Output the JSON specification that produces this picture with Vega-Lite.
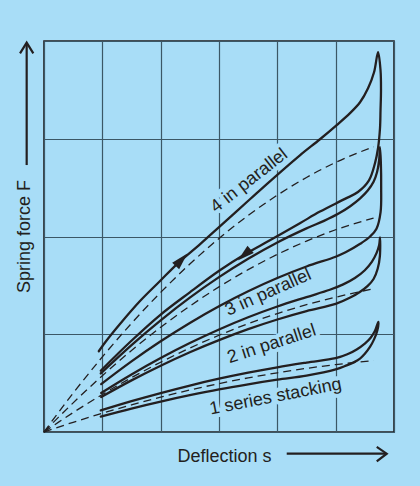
{
  "$schema": "https://vega.github.io/schema/vega-lite/v6.json",
  "width": 350,
  "height": 391,
  "autosize": "none",
  "padding": {"left": 44, "top": 41, "right": 26, "bottom": 54},
  "background": "#a8ddf7",
  "config": {
    "view": {"stroke": "#231f20", "strokeWidth": 1.6},
    "font": "Liberation Sans"
  },
  "datasets": {
    "solid": [
      {"id": "G4", "ord": 1, "s": 0.939, "F": 0.826},
      {"id": "G4", "ord": 2, "s": 1.076, "F": 0.938},
      {"id": "G4", "ord": 3, "s": 1.299, "F": 1.102},
      {"id": "G4", "ord": 4, "s": 1.642, "F": 1.337},
      {"id": "G4", "ord": 5, "s": 1.985, "F": 1.542},
      {"id": "G4", "ord": 6, "s": 2.294, "F": 1.726},
      {"id": "G4", "ord": 7, "s": 2.672, "F": 1.92},
      {"id": "G4", "ord": 8, "s": 3.015, "F": 2.104},
      {"id": "G4", "ord": 9, "s": 3.53, "F": 2.381},
      {"id": "G4", "ord": 10, "s": 3.873, "F": 2.565},
      {"id": "G4", "ord": 11, "s": 4.387, "F": 2.831},
      {"id": "G4", "ord": 12, "s": 4.731, "F": 2.995},
      {"id": "G4", "ord": 13, "s": 5.023, "F": 3.142},
      {"id": "G4", "ord": 14, "s": 5.246, "F": 3.262},
      {"id": "G4", "ord": 15, "s": 5.418, "F": 3.373},
      {"id": "G4", "ord": 16, "s": 5.555, "F": 3.516},
      {"id": "G4", "ord": 17, "s": 5.658, "F": 3.68},
      {"id": "G4", "ord": 18, "s": 5.727, "F": 3.885},
      {"id": "G4", "ord": 19, "s": 5.769, "F": 3.701},
      {"id": "G4", "ord": 20, "s": 5.777, "F": 3.496},
      {"id": "G4", "ord": 21, "s": 5.769, "F": 3.292},
      {"id": "G4", "ord": 22, "s": 5.76, "F": 3.107},
      {"id": "G4", "ord": 23, "s": 5.726, "F": 2.903},
      {"id": "G4", "ord": 24, "s": 5.674, "F": 2.75},
      {"id": "G4", "ord": 25, "s": 5.571, "F": 2.574},
      {"id": "G4", "ord": 26, "s": 5.382, "F": 2.455},
      {"id": "G4", "ord": 27, "s": 5.159, "F": 2.385},
      {"id": "G4", "ord": 28, "s": 4.731, "F": 2.255},
      {"id": "G4", "ord": 29, "s": 4.387, "F": 2.136},
      {"id": "G4", "ord": 30, "s": 3.873, "F": 1.961},
      {"id": "G4", "ord": 31, "s": 3.444, "F": 1.818},
      {"id": "G4", "ord": 32, "s": 3.015, "F": 1.654},
      {"id": "G4", "ord": 33, "s": 2.5, "F": 1.429},
      {"id": "G4", "ord": 34, "s": 1.985, "F": 1.194},
      {"id": "G4", "ord": 35, "s": 1.471, "F": 0.918},
      {"id": "G4", "ord": 36, "s": 0.973, "F": 0.627},

      {"id": "G3", "ord": 1, "s": 0.973, "F": 0.599},
      {"id": "G3", "ord": 2, "s": 1.5, "F": 0.889},
      {"id": "G3", "ord": 3, "s": 2.0, "F": 1.142},
      {"id": "G3", "ord": 4, "s": 2.5, "F": 1.374},
      {"id": "G3", "ord": 5, "s": 3.0, "F": 1.584},
      {"id": "G3", "ord": 6, "s": 3.5, "F": 1.772},
      {"id": "G3", "ord": 7, "s": 4.0, "F": 1.939},
      {"id": "G3", "ord": 8, "s": 4.5, "F": 2.083},
      {"id": "G3", "ord": 9, "s": 4.8, "F": 2.16},
      {"id": "G3", "ord": 10, "s": 5.05, "F": 2.235},
      {"id": "G3", "ord": 11, "s": 5.25, "F": 2.31},
      {"id": "G3", "ord": 12, "s": 5.42, "F": 2.39},
      {"id": "G3", "ord": 13, "s": 5.55, "F": 2.47},
      {"id": "G3", "ord": 14, "s": 5.65, "F": 2.56},
      {"id": "G3", "ord": 15, "s": 5.71, "F": 2.66},
      {"id": "G3", "ord": 16, "s": 5.745, "F": 2.78},
      {"id": "G3", "ord": 17, "s": 5.76, "F": 2.913},
      {"id": "G3", "ord": 18, "s": 5.775, "F": 2.75},
      {"id": "G3", "ord": 19, "s": 5.78, "F": 2.5},
      {"id": "G3", "ord": 20, "s": 5.77, "F": 2.25},
      {"id": "G3", "ord": 21, "s": 5.7, "F": 2.08},
      {"id": "G3", "ord": 22, "s": 5.59, "F": 2.0},
      {"id": "G3", "ord": 23, "s": 5.42, "F": 1.925},
      {"id": "G3", "ord": 24, "s": 5.17, "F": 1.838},
      {"id": "G3", "ord": 25, "s": 5.0, "F": 1.793},
      {"id": "G3", "ord": 26, "s": 4.5, "F": 1.693},
      {"id": "G3", "ord": 27, "s": 4.0, "F": 1.575},
      {"id": "G3", "ord": 28, "s": 3.5, "F": 1.44},
      {"id": "G3", "ord": 29, "s": 3.0, "F": 1.287},
      {"id": "G3", "ord": 30, "s": 2.5, "F": 1.116},
      {"id": "G3", "ord": 31, "s": 2.0, "F": 0.928},
      {"id": "G3", "ord": 32, "s": 1.5, "F": 0.7225},
      {"id": "G3", "ord": 33, "s": 0.98, "F": 0.49},

      {"id": "G2", "ord": 1, "s": 0.98, "F": 0.4},
      {"id": "G2", "ord": 2, "s": 1.5, "F": 0.589},
      {"id": "G2", "ord": 3, "s": 2.0, "F": 0.757},
      {"id": "G2", "ord": 4, "s": 2.5, "F": 0.91},
      {"id": "G2", "ord": 5, "s": 3.0, "F": 1.049},
      {"id": "G2", "ord": 6, "s": 3.5, "F": 1.174},
      {"id": "G2", "ord": 7, "s": 4.0, "F": 1.284},
      {"id": "G2", "ord": 8, "s": 4.5, "F": 1.38},
      {"id": "G2", "ord": 9, "s": 4.9, "F": 1.455},
      {"id": "G2", "ord": 10, "s": 5.13, "F": 1.51},
      {"id": "G2", "ord": 11, "s": 5.33, "F": 1.575},
      {"id": "G2", "ord": 12, "s": 5.5, "F": 1.655},
      {"id": "G2", "ord": 13, "s": 5.62, "F": 1.74},
      {"id": "G2", "ord": 14, "s": 5.7, "F": 1.83},
      {"id": "G2", "ord": 15, "s": 5.745, "F": 1.91},
      {"id": "G2", "ord": 16, "s": 5.76, "F": 1.99},
      {"id": "G2", "ord": 17, "s": 5.758, "F": 1.8},
      {"id": "G2", "ord": 18, "s": 5.72, "F": 1.67},
      {"id": "G2", "ord": 19, "s": 5.65, "F": 1.565},
      {"id": "G2", "ord": 20, "s": 5.55, "F": 1.495},
      {"id": "G2", "ord": 21, "s": 5.42, "F": 1.435},
      {"id": "G2", "ord": 22, "s": 5.25, "F": 1.375},
      {"id": "G2", "ord": 23, "s": 5.0, "F": 1.31},
      {"id": "G2", "ord": 24, "s": 4.5, "F": 1.237},
      {"id": "G2", "ord": 25, "s": 4.0, "F": 1.151},
      {"id": "G2", "ord": 26, "s": 3.5, "F": 1.052},
      {"id": "G2", "ord": 27, "s": 3.0, "F": 0.94},
      {"id": "G2", "ord": 28, "s": 2.5, "F": 0.816},
      {"id": "G2", "ord": 29, "s": 2.0, "F": 0.678},
      {"id": "G2", "ord": 30, "s": 1.5, "F": 0.528},
      {"id": "G2", "ord": 31, "s": 0.98, "F": 0.358},

      {"id": "G1", "ord": 1, "s": 0.973, "F": 0.222},
      {"id": "G1", "ord": 2, "s": 1.5, "F": 0.315},
      {"id": "G1", "ord": 3, "s": 2.0, "F": 0.398},
      {"id": "G1", "ord": 4, "s": 2.5, "F": 0.475},
      {"id": "G1", "ord": 5, "s": 3.0, "F": 0.545},
      {"id": "G1", "ord": 6, "s": 3.5, "F": 0.607},
      {"id": "G1", "ord": 7, "s": 4.0, "F": 0.662},
      {"id": "G1", "ord": 8, "s": 4.5, "F": 0.71},
      {"id": "G1", "ord": 9, "s": 5.0, "F": 0.755},
      {"id": "G1", "ord": 10, "s": 5.2, "F": 0.795},
      {"id": "G1", "ord": 11, "s": 5.36, "F": 0.845},
      {"id": "G1", "ord": 12, "s": 5.5, "F": 0.905},
      {"id": "G1", "ord": 13, "s": 5.6, "F": 0.965},
      {"id": "G1", "ord": 14, "s": 5.67, "F": 1.03},
      {"id": "G1", "ord": 15, "s": 5.731, "F": 1.127},
      {"id": "G1", "ord": 16, "s": 5.715, "F": 1.04},
      {"id": "G1", "ord": 17, "s": 5.66, "F": 0.95},
      {"id": "G1", "ord": 18, "s": 5.588, "F": 0.87},
      {"id": "G1", "ord": 19, "s": 5.5, "F": 0.8},
      {"id": "G1", "ord": 20, "s": 5.417, "F": 0.751},
      {"id": "G1", "ord": 21, "s": 5.3, "F": 0.71},
      {"id": "G1", "ord": 22, "s": 5.189, "F": 0.682},
      {"id": "G1", "ord": 23, "s": 5.0, "F": 0.64},
      {"id": "G1", "ord": 24, "s": 4.5, "F": 0.576},
      {"id": "G1", "ord": 25, "s": 4.0, "F": 0.535},
      {"id": "G1", "ord": 26, "s": 3.5, "F": 0.488},
      {"id": "G1", "ord": 27, "s": 3.0, "F": 0.436},
      {"id": "G1", "ord": 28, "s": 2.5, "F": 0.376},
      {"id": "G1", "ord": 29, "s": 2.0, "F": 0.311},
      {"id": "G1", "ord": 30, "s": 1.5, "F": 0.24},
      {"id": "G1", "ord": 31, "s": 0.973, "F": 0.158}
    ],
    "dashed": [
      {"id": "D1", "ord": 1, "s": 0, "F": 0},
      {"id": "D1", "ord": 2, "s": 0.25, "F": 0.0506},
      {"id": "D1", "ord": 3, "s": 0.5, "F": 0.0994},
      {"id": "D1", "ord": 4, "s": 1, "F": 0.1921},
      {"id": "D1", "ord": 5, "s": 1.5, "F": 0.2779},
      {"id": "D1", "ord": 6, "s": 2, "F": 0.357},
      {"id": "D1", "ord": 7, "s": 2.5, "F": 0.4294},
      {"id": "D1", "ord": 8, "s": 3, "F": 0.495},
      {"id": "D1", "ord": 9, "s": 3.5, "F": 0.5538},
      {"id": "D1", "ord": 10, "s": 4, "F": 0.6058},
      {"id": "D1", "ord": 11, "s": 4.5, "F": 0.651},
      {"id": "D1", "ord": 12, "s": 5, "F": 0.6895},
      {"id": "D1", "ord": 13, "s": 5.65, "F": 0.7294},
      {"id": "D2", "ord": 1, "s": 0, "F": 0},
      {"id": "D2", "ord": 2, "s": 0.25, "F": 0.101},
      {"id": "D2", "ord": 3, "s": 0.5, "F": 0.199},
      {"id": "D2", "ord": 4, "s": 1, "F": 0.384},
      {"id": "D2", "ord": 5, "s": 1.5, "F": 0.556},
      {"id": "D2", "ord": 6, "s": 2, "F": 0.714},
      {"id": "D2", "ord": 7, "s": 2.5, "F": 0.859},
      {"id": "D2", "ord": 8, "s": 3, "F": 0.99},
      {"id": "D2", "ord": 9, "s": 3.5, "F": 1.108},
      {"id": "D2", "ord": 10, "s": 4, "F": 1.212},
      {"id": "D2", "ord": 11, "s": 4.5, "F": 1.302},
      {"id": "D2", "ord": 12, "s": 5, "F": 1.379},
      {"id": "D2", "ord": 13, "s": 5.68, "F": 1.47},
      {"id": "D3", "ord": 1, "s": 0, "F": 0},
      {"id": "D3", "ord": 2, "s": 0.25, "F": 0.152},
      {"id": "D3", "ord": 3, "s": 0.5, "F": 0.298},
      {"id": "D3", "ord": 4, "s": 1, "F": 0.576},
      {"id": "D3", "ord": 5, "s": 1.5, "F": 0.834},
      {"id": "D3", "ord": 6, "s": 2, "F": 1.071},
      {"id": "D3", "ord": 7, "s": 2.5, "F": 1.288},
      {"id": "D3", "ord": 8, "s": 3, "F": 1.485},
      {"id": "D3", "ord": 9, "s": 3.5, "F": 1.661},
      {"id": "D3", "ord": 10, "s": 4, "F": 1.817},
      {"id": "D3", "ord": 11, "s": 4.5, "F": 1.953},
      {"id": "D3", "ord": 12, "s": 5, "F": 2.069},
      {"id": "D3", "ord": 13, "s": 5.65, "F": 2.188},
      {"id": "D4", "ord": 1, "s": 0, "F": 0},
      {"id": "D4", "ord": 2, "s": 0.25, "F": 0.202},
      {"id": "D4", "ord": 3, "s": 0.5, "F": 0.398},
      {"id": "D4", "ord": 4, "s": 1, "F": 0.768},
      {"id": "D4", "ord": 5, "s": 1.5, "F": 1.112},
      {"id": "D4", "ord": 6, "s": 2, "F": 1.428},
      {"id": "D4", "ord": 7, "s": 2.5, "F": 1.718},
      {"id": "D4", "ord": 8, "s": 3, "F": 1.98},
      {"id": "D4", "ord": 9, "s": 3.5, "F": 2.215},
      {"id": "D4", "ord": 10, "s": 4, "F": 2.423},
      {"id": "D4", "ord": 11, "s": 4.5, "F": 2.604},
      {"id": "D4", "ord": 12, "s": 5, "F": 2.758},
      {"id": "D4", "ord": 13, "s": 5.65, "F": 2.918}
    ],
    "axisArrows": [
      {"id": "yStem", "ord": 1, "s": -0.297, "F": 2.731},
      {"id": "yStem", "ord": 2, "s": -0.297, "F": 3.975},
      {"id": "yHead", "ord": 1, "s": -0.411, "F": 3.874},
      {"id": "yHead", "ord": 2, "s": -0.297, "F": 3.983},
      {"id": "yHead", "ord": 3, "s": -0.183, "F": 3.874},
      {"id": "xStem", "ord": 1, "s": 4.161, "F": -0.222},
      {"id": "xStem", "ord": 2, "s": 5.865, "F": -0.222},
      {"id": "xHead", "ord": 1, "s": 5.704, "F": -0.153},
      {"id": "xHead", "ord": 2, "s": 5.875, "F": -0.222},
      {"id": "xHead", "ord": 3, "s": 5.704, "F": -0.3}
    ],
    "arrowheads": [
      {"dir": "loading", "s": 2.346, "F": 1.756},
      {"dir": "unloading", "s": 3.444, "F": 1.818}
    ],
    "labels": [
      {"label": "4 in parallel", "s": 3.572, "F": 2.529},
      {"label": "3 in parallel", "s": 3.881, "F": 1.378},
      {"label": "2 in parallel", "s": 3.929, "F": 0.848},
      {"label": "1 series stacking", "s": 3.988, "F": 0.309}
    ]
  },
  "encoding": {
    "x": {
      "field": "s", "type": "quantitative",
      "scale": {"domain": [0, 6], "nice": false, "zero": false},
      "axis": {
        "title": "Deflection s", "values": [0, 1, 2, 3, 4, 5, 6],
        "grid": true, "gridColor": "#3b5766", "gridWidth": 1.2, "gridOpacity": 1,
        "labels": false, "ticks": false, "domain": false,
        "titleFont": "Liberation Sans", "titleFontSize": 18, "titleFontWeight": "normal",
        "titleColor": "#231f20", "titleX": 180, "titleY": 29,
        "titleAlign": "center", "titleBaseline": "alphabetic"
      }
    },
    "y": {
      "field": "F", "type": "quantitative",
      "scale": {"domain": [0, 4], "nice": false, "zero": false},
      "axis": {
        "title": "Spring force F", "values": [0, 1, 2, 3, 4],
        "grid": true, "gridColor": "#3b5766", "gridWidth": 1.2, "gridOpacity": 1,
        "labels": false, "ticks": false, "domain": false,
        "titleFont": "Liberation Sans", "titleFontSize": 18, "titleFontWeight": "normal",
        "titleColor": "#231f20", "titleX": -15, "titleY": 195,
        "titleAlign": "center", "titleBaseline": "alphabetic"
      }
    }
  },
  "layer": [
    {"data": {"name": "labels"}, "transform": [{"filter": "datum.label === '4 in parallel'"}],
     "mark": {"type": "text", "angle": 322, "align": "center", "baseline": "alphabetic", "font": "Liberation Sans", "fontSize": 18, "fill": "#a8ddf7", "stroke": "#a8ddf7", "strokeWidth": 8, "strokeJoin": "round"},
     "encoding": {"text": {"field": "label"}}},
    {"data": {"name": "labels"}, "transform": [{"filter": "datum.label === '3 in parallel'"}],
     "mark": {"type": "text", "angle": 336, "align": "center", "baseline": "alphabetic", "font": "Liberation Sans", "fontSize": 18, "fill": "#a8ddf7", "stroke": "#a8ddf7", "strokeWidth": 8, "strokeJoin": "round"},
     "encoding": {"text": {"field": "label"}}},
    {"data": {"name": "labels"}, "transform": [{"filter": "datum.label === '2 in parallel'"}],
     "mark": {"type": "text", "angle": 342, "align": "center", "baseline": "alphabetic", "font": "Liberation Sans", "fontSize": 18, "fill": "#a8ddf7", "stroke": "#a8ddf7", "strokeWidth": 8, "strokeJoin": "round"},
     "encoding": {"text": {"field": "label"}}},
    {"data": {"name": "labels"}, "transform": [{"filter": "datum.label === '1 series stacking'"}],
     "mark": {"type": "text", "angle": 349, "align": "center", "baseline": "alphabetic", "font": "Liberation Sans", "fontSize": 18, "fill": "#a8ddf7", "stroke": "#a8ddf7", "strokeWidth": 8, "strokeJoin": "round"},
     "encoding": {"text": {"field": "label"}}},
    {"data": {"name": "dashed"},
     "mark": {"type": "line", "interpolate": "monotone", "color": "#231f20", "strokeWidth": 1.3, "strokeDash": [8, 5]},
     "encoding": {"detail": {"field": "id"}, "order": {"field": "ord", "type": "quantitative"}}},
    {"data": {"name": "solid"},
     "mark": {"type": "line", "interpolate": "catmull-rom", "color": "#231f20", "strokeWidth": 2.3, "strokeCap": "round"},
     "encoding": {"detail": {"field": "id"}, "order": {"field": "ord", "type": "quantitative"}}},
    {"data": {"name": "axisArrows"},
     "mark": {"type": "line", "color": "#231f20", "strokeWidth": 2.2, "strokeJoin": "miter"},
     "encoding": {"detail": {"field": "id"}, "order": {"field": "ord", "type": "quantitative"}}},
    {"data": {"name": "arrowheads"}, "transform": [{"filter": "datum.dir === 'loading'"}],
     "mark": {"type": "point", "shape": "M0,-1L0.5,0.8L-0.5,0.8Z", "size": 361, "angle": 43, "filled": true, "color": "#231f20", "opacity": 1}},
    {"data": {"name": "arrowheads"}, "transform": [{"filter": "datum.dir === 'unloading'"}],
     "mark": {"type": "point", "shape": "M0,-1L0.5,0.8L-0.5,0.8Z", "size": 361, "angle": 229, "filled": true, "color": "#231f20", "opacity": 1}},
    {"data": {"name": "labels"}, "transform": [{"filter": "datum.label === '4 in parallel'"}],
     "mark": {"type": "text", "angle": 322, "align": "center", "baseline": "alphabetic", "font": "Liberation Sans", "fontSize": 18, "color": "#231f20"},
     "encoding": {"text": {"field": "label"}}},
    {"data": {"name": "labels"}, "transform": [{"filter": "datum.label === '3 in parallel'"}],
     "mark": {"type": "text", "angle": 336, "align": "center", "baseline": "alphabetic", "font": "Liberation Sans", "fontSize": 18, "color": "#231f20"},
     "encoding": {"text": {"field": "label"}}},
    {"data": {"name": "labels"}, "transform": [{"filter": "datum.label === '2 in parallel'"}],
     "mark": {"type": "text", "angle": 342, "align": "center", "baseline": "alphabetic", "font": "Liberation Sans", "fontSize": 18, "color": "#231f20"},
     "encoding": {"text": {"field": "label"}}},
    {"data": {"name": "labels"}, "transform": [{"filter": "datum.label === '1 series stacking'"}],
     "mark": {"type": "text", "angle": 349, "align": "center", "baseline": "alphabetic", "font": "Liberation Sans", "fontSize": 18, "color": "#231f20"},
     "encoding": {"text": {"field": "label"}}}
  ]
}
